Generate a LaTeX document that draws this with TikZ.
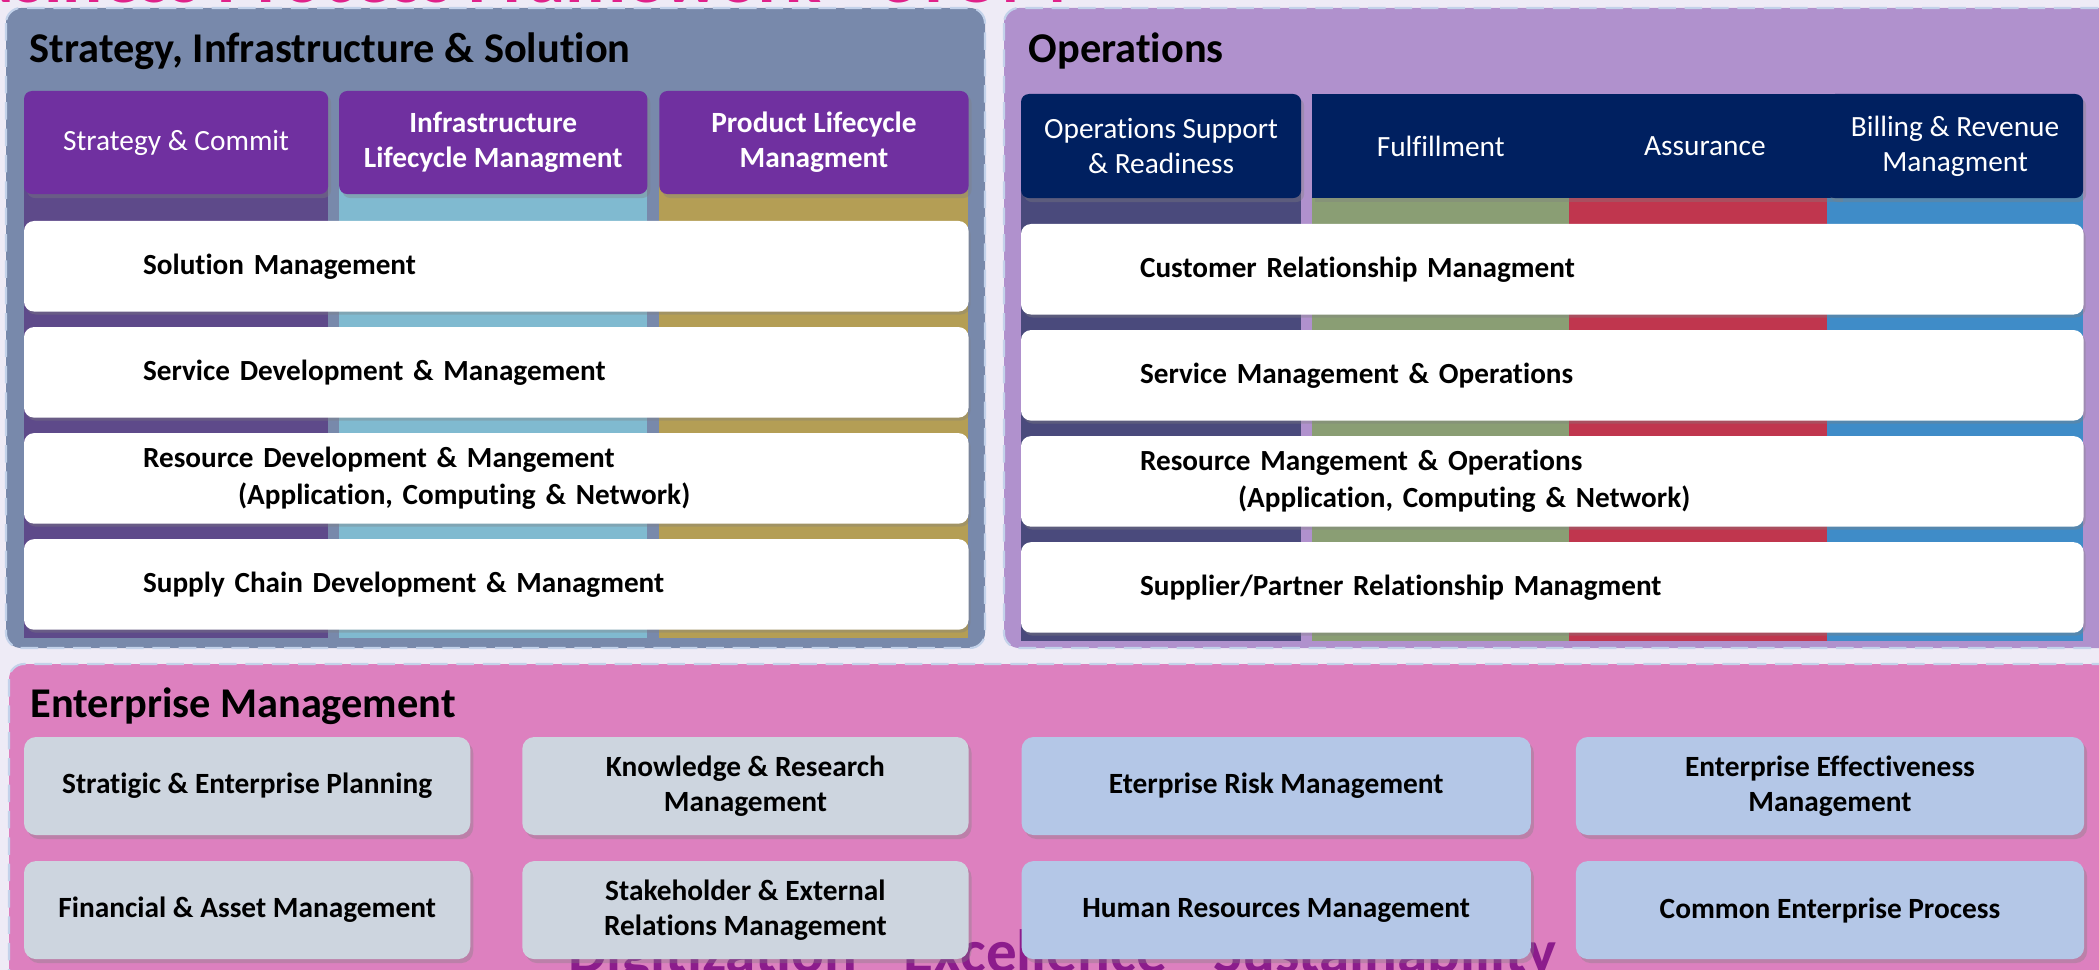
\documentclass[tikz,border=0pt]{standalone}
\usepackage{fontspec}
\setmainfont{Carlito}[Ligatures = {NoCommon}]
\usepackage{tikz}
\usetikzlibrary{positioning,%
                shadows}
\definecolor{pageBg}{HTML}{EEEBF6}
\definecolor{siaBg}{HTML}{7889AB}
\definecolor{opsBg}{HTML}{B091CD}
\definecolor{entBg}{HTML}{DD80BF}
\definecolor{panelLine}{HTML}{C3D2EA}
\definecolor{tabPurple}{HTML}{7030A0}
\definecolor{tabNavy}{HTML}{002060}
\definecolor{colSC}{HTML}{5E4A8A}
\definecolor{colILM}{HTML}{80BAD0}
\definecolor{colPLM}{HTML}{B49E55}
\definecolor{colOSR}{HTML}{4A4A7C}
\definecolor{colFul}{HTML}{8A9E74}
\definecolor{colAss}{HTML}{C0364E}
\definecolor{colBRM}{HTML}{3F8CC8}
\definecolor{entGray}{HTML}{CDD5DF}
\definecolor{entBlue}{HTML}{B4C7E7}
\definecolor{titleMagenta}{HTML}{E0218A}
\definecolor{mottoPurple}{HTML}{8C1C8C}

\begin{document}
\begin{tikzpicture}[x = 0.01cm, y = -0.01cm]
  \useasboundingbox (0,0) rectangle (2099,970);
  \clip (0,0) rectangle (2099,970);
  \tikzset{PanelStyle/.style = {draw           = panelLine,
                                line width     = 0.6pt,
                                dash pattern   = on 5pt off 2.5pt,
                                rounded corners = 0.15cm}}
  \tikzset{TitleStyle/.style = {anchor         = west,
                                inner sep      = 0pt,
                                text           = black,
                                font           = \fontsize{12.05}{14}\selectfont\bfseries}}
  \tikzset{TabStyle/.style   = {rectangle,
                                anchor         = north west,
                                fill           = tabPurple,
                                text           = white,
                                align          = center,
                                inner sep      = 0pt,
                                outer sep      = 0pt,
                                rounded corners = 0.08cm,
                                minimum height = 1.03cm,
                                font           = \fontsize{8.35}{10}\selectfont,
                                drop shadow    = {opacity = 0.35,
                                                  shadow xshift = 0.03cm,
                                                  shadow yshift = -0.04cm}}}
  \tikzset{TabBold/.style    = {TabStyle,
                                font           = \fontsize{8.35}{10}\selectfont\bfseries}}
  \tikzset{NavyTab/.style    = {TabStyle,
                                fill           = tabNavy,
                                minimum height = 1.04cm}}
  \tikzset{BarStyle/.style   = {rectangle,
                                anchor         = north west,
                                fill           = white,
                                text           = black,
                                align          = left,
                                inner xsep     = 1.19cm,
                                inner ysep     = 0pt,
                                outer sep      = 0pt,
                                rounded corners = 0.1cm,
                                minimum height = 0.905cm,
                                font           = \fontsize{8.3}{10.5}\selectfont\bfseries,
                                drop shadow    = {opacity = 0.35,
                                                  shadow xshift = 0.02cm,
                                                  shadow yshift = -0.03cm}}}
  \tikzset{BoxStyle/.style   = {rectangle,
                                anchor         = north west,
                                text           = black,
                                align          = center,
                                inner sep      = 0pt,
                                outer sep      = 0pt,
                                rounded corners = 0.12cm,
                                minimum height = 0.98cm,
                                font           = \fontsize{8.35}{10}\selectfont\bfseries,
                                drop shadow    = {opacity = 0.35,
                                                  shadow xshift = 0.03cm,
                                                  shadow yshift = -0.04cm}}}
     \fill[pageBg] (0,0) rectangle (2099,970);
     \node[anchor = base east, inner sep = 0pt, text = titleMagenta,
           font = \fontsize{21.3}{24}\selectfont\bfseries] (frameTitle) at (1068,3)
           {Business Process Framework - eTOM};
     % strategy, infrastructure & solution
     \draw[PanelStyle, fill = siaBg] (6,8) rectangle (985,648);
     \node[TitleStyle] (siaTitle) at (29,51) {Strategy, Infrastructure \& Solution};
     \fill[colSC]  (24,150)  rectangle (328,638);
     \fill[colILM] (339,150) rectangle (647,638);
     \fill[colPLM] (659,150) rectangle (968,638);
     \node[TabStyle, minimum width = 3.04cm] (SC) at (24,91) {Strategy \& Commit};
     \node[TabBold, minimum width = 3.08cm, right = 0.11cm of SC] (ILM)
           {Infrastructure\\Lifecycle Managment};
     \node[TabBold, minimum width = 3.09cm, right = 0.12cm of ILM] (PLM)
           {Product Lifecycle\\Managment};
     \node[BarStyle, text width = 7.06cm] (SolM) at (24,221) {Solution Management};
     \node[BarStyle, text width = 7.06cm, below = 0.155cm of SolM] (SDM)
           {Service Development \& Management};
     \node[BarStyle, text width = 7.06cm, below = 0.155cm of SDM] (RDM)
           {Resource Development \& Mangement\\\hspace*{0.95cm}(Application, Computing \& Network)};
     \node[BarStyle, text width = 7.06cm, below = 0.155cm of RDM] (SCDM)
           {Supply Chain Development \& Managment};
     % operations
     \draw[PanelStyle, fill = opsBg] (1004,8) rectangle (2115,648);
     \node[TitleStyle] (opsTitle) at (1028,51) {Operations};
     \fill[colOSR] (1021,150) rectangle (1301,641);
     \fill[colFul] (1312,150) rectangle (1569,641);
     \fill[colAss] (1569,150) rectangle (1827,641);
     \fill[colBRM] (1827,150) rectangle (2083,641);
     \node[NavyTab, minimum width = 2.80cm] (OSR) at (1021,94)
           {Operations Support\\\& Readiness};
     \node[NavyTab, rounded corners = 0cm, minimum width = 2.57cm, right = 0.11cm of OSR] (Ful)
           {Fulfillment};
     \node[NavyTab, rounded corners = 0cm, minimum width = 2.71cm, right = 0cm of Ful] (Ass)
           {Assurance};
     \node[NavyTab, minimum width = 2.56cm] (BRM) at (1827,94)
           {Billing \& Revenue\\Managment};
     \node[BarStyle, text width = 8.24cm] (CRM) at (1021,224)
           {Customer Relationship Managment};
     \node[BarStyle, text width = 8.24cm, below = 0.155cm of CRM] (SMO)
           {Service Management \& Operations};
     \node[BarStyle, text width = 8.24cm, below = 0.155cm of SMO] (RMO)
           {Resource Mangement \& Operations\\\hspace*{0.98cm}(Application, Computing \& Network)};
     \node[BarStyle, text width = 8.24cm, below = 0.155cm of RMO] (SPRM)
           {Supplier/Partner Relationship Managment};
     % enterprise management
     \draw[PanelStyle, fill = entBg] (9,664) rectangle (2115,1010);
     \node[TitleStyle] (entTitle) at (30,706) {Enterprise Management};
     \node[anchor = base, inner sep = 0pt, text = mottoPurple,
           font = \fontsize{17.4}{20}\selectfont\bfseries] (motto) at (1062,972)
           {Digitization - Excellence - Sustainability};
     \node[BoxStyle, fill = entGray, minimum width = 4.46cm] (SEP) at (24,737)
           {Stratigic \& Enterprise Planning};
     \node[BoxStyle, fill = entGray, minimum width = 4.46cm, right = 0.52cm of SEP] (KRM)
           {Knowledge \& Research\\Management};
     \node[BoxStyle, fill = entBlue, minimum width = 5.09cm, right = 0.53cm of KRM] (ERM)
           {Eterprise Risk Management};
     \node[BoxStyle, fill = entBlue, minimum width = 5.08cm, right = 0.45cm of ERM] (EEM)
           {Enterprise Effectiveness\\Management};
     \node[BoxStyle, fill = entGray, minimum width = 4.46cm, below = 0.26cm of SEP] (FAM)
           {Financial \& Asset Management};
     \node[BoxStyle, fill = entGray, minimum width = 4.46cm, below = 0.26cm of KRM] (SERM)
           {Stakeholder \& External\\Relations Management};
     \node[BoxStyle, fill = entBlue, minimum width = 5.09cm, below = 0.26cm of ERM] (HRM)
           {Human Resources Management};
     \node[BoxStyle, fill = entBlue, minimum width = 5.08cm, below = 0.26cm of EEM] (CEP)
           {Common Enterprise Process};
\end{tikzpicture}
\end{document}
